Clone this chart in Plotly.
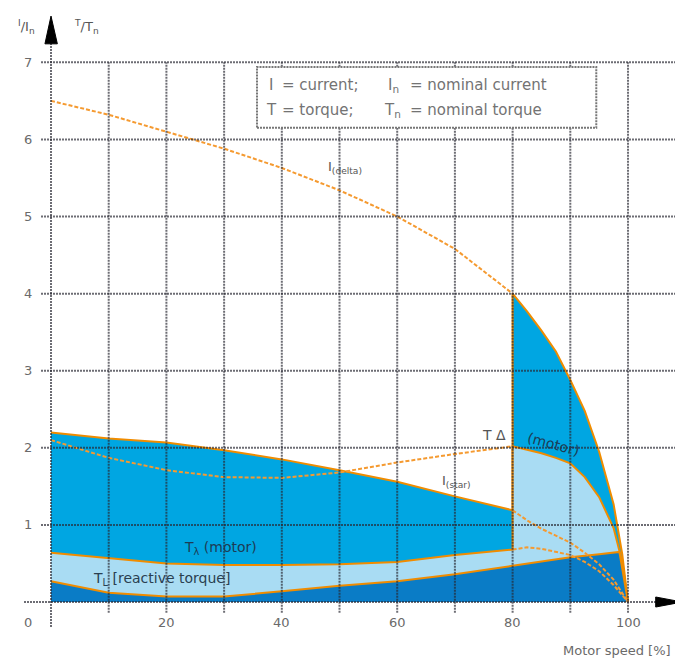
import plotly.graph_objects as go

# motor speed [%]
speed_lo = [0, 10, 20, 30, 40, 50, 60, 70, 80]
speed_hi = [80, 82.5, 85, 87.5, 90, 92.5, 95, 97.5, 99, 100]
speed_load = [0, 10, 20, 30, 40, 50, 60, 70, 80, 90, 95, 98.5, 100]

# currents I/In
i_delta_lo = [6.5, 6.32, 6.1, 5.88, 5.63, 5.34, 5.0, 4.58, 4.0]
i_delta_hi = [4.0, 3.77, 3.52, 3.25, 2.88, 2.48, 1.95, 1.27, 0.62, 0.0]
i_star_lo = [2.2, 2.12, 2.07, 1.97, 1.85, 1.71, 1.56, 1.37, 1.19]
i_star_hi = [1.19, 1.06, 0.95, 0.86, 0.77, 0.64, 0.49, 0.29, 0.12, 0.0]

# torques T/Tn
t_delta_lo = [2.1, 1.87, 1.71, 1.62, 1.61, 1.68, 1.81, 1.92, 2.02]
t_delta_hi = [2.02, 1.98, 1.93, 1.87, 1.8, 1.62, 1.36, 0.96, 0.52, 0.0]
t_star_lo = [0.64, 0.57, 0.5, 0.48, 0.48, 0.49, 0.52, 0.61, 0.68]
t_star_hi = [0.68, 0.71, 0.69, 0.65, 0.61, 0.52, 0.4, 0.22, 0.08, 0.0]
t_load = [0.27, 0.12, 0.07, 0.07, 0.14, 0.21, 0.27, 0.36, 0.47, 0.58, 0.62, 0.65, 0.0]

# ticks / grid
x_ticks = [20, 40, 60, 80, 100]
y_ticks = [1, 2, 3, 4, 5, 6, 7]
x_grid = [10, 20, 30, 40, 50, 60, 70, 80, 90, 100]

FONT = "DejaVu Sans"
ORANGE = "#f08c00"
ORANGE_DOT = "#f59a30"
MID_BLUE = "#00a6e2"
LIGHT_BLUE = "#a9dcf3"
DARK_BLUE = "#0a7cc6"
GRID = "rgba(40,40,50,0.68)"

fig = go.Figure()

# current envelope (star up to 80 %, then delta)
fig.add_trace(go.Scatter(
    x=speed_lo + speed_hi, y=i_star_lo + i_delta_hi, mode="lines",
    fill="tozeroy", fillcolor=MID_BLUE, line=dict(color=ORANGE, width=2),
))
# motor torque envelope
fig.add_trace(go.Scatter(
    x=speed_lo + speed_hi, y=t_star_lo + t_delta_hi, mode="lines",
    fill="tozeroy", fillcolor=LIGHT_BLUE, line=dict(color=ORANGE, width=2),
))
# load torque
fig.add_trace(go.Scatter(
    x=speed_load, y=t_load, mode="lines",
    fill="tozeroy", fillcolor=DARK_BLUE, line=dict(color=ORANGE, width=2),
))
# the parts of the curves that are not used
for xs, ys in [(speed_lo, i_delta_lo), (speed_lo, t_delta_lo),
               (speed_hi, i_star_hi), (speed_hi, t_star_hi)]:
    fig.add_trace(go.Scatter(
        x=xs, y=ys, mode="lines",
        line=dict(color=ORANGE_DOT, width=2, dash="4px,2px"),
    ))

shapes = []
grid_line = dict(color=GRID, width=2, dash="2px,1px")
for gx in x_grid:
    shapes.append(dict(type="line", xref="x", yref="y", x0=gx, x1=gx, y0=-0.14, y1=7,
                       line=grid_line, layer="above"))
for gy in y_ticks:
    shapes.append(dict(type="line", xref="x", yref="y", x0=-1.73, x1=109.5, y0=gy, y1=gy,
                       line=grid_line, layer="above"))
# axes
shapes.append(dict(type="line", xref="x", yref="y", x0=-4.68, x1=105, y0=0, y1=0,
                   line=grid_line, layer="above"))
shapes.append(dict(type="line", xref="x", yref="y", x0=0, x1=0, y0=-0.324, y1=7.25,
                   line=grid_line, layer="above"))
# arrow heads
shapes.append(dict(type="path", xref="x", yref="y", layer="above",
                   path="M -1.05,7.24 L 1.1,7.24 L 0,7.6 Z",
                   fillcolor="black", line=dict(color="black", width=1)))
shapes.append(dict(type="path", xref="x", yref="y", layer="above",
                   path="M 104.8,-0.065 L 104.8,0.065 L 109.4,0 Z",
                   fillcolor="black", line=dict(color="black", width=1)))
# legend box
shapes.append(dict(type="rect", xref="x", yref="y", x0=35.7, x1=94.5, y0=6.15, y1=6.94,
                   fillcolor="white", line=dict(color="#777", width=2, dash="2px,1px"),
                   layer="above"))

ann = []


def text(x, y, s, size=13, color="#6a6a6a", xanchor="center", yanchor="middle", angle=0):
    ann.append(dict(x=x, y=y, xref="x", yref="y", text=s, showarrow=False,
                    xanchor=xanchor, yanchor=yanchor, textangle=angle,
                    font=dict(family=FONT, size=size, color=color)))


for v in x_ticks:
    text(v, -0.272, str(v))
for v in y_ticks:
    text(-3.99, v, str(v))
text(-3.99, -0.272, "0")

# axis titles
text(-4.3, 7.46, "<sup>I</sup>/I<sub>n</sub>", size=13, color="#555")
text(6.1, 7.46, "<sup>T</sup>/T<sub>n</sub>", size=13, color="#555")
ann.append(dict(x=107.8, y=-0.038, xref="x", yref="paper", text="Motor speed [%]",
                showarrow=False, xanchor="right", yanchor="middle",
                font=dict(family=FONT, size=13, color="#6a6a6a")))

# legend text
leg = dict(size=15, color="#737373", xanchor="left")
text(37.4, 6.705, "I", **leg)
text(39.6, 6.705, "= current;", **leg)
text(58.0, 6.705, "I<sub>n</sub>", **leg)
text(61.9, 6.705, "= nominal current", **leg)
text(36.9, 6.38, "T", **leg)
text(39.6, 6.38, "= torque;", **leg)
text(57.3, 6.38, "T<sub>n</sub>", **leg)
text(61.9, 6.38, "= nominal torque", **leg)

# curve labels
text(47.6, 5.64, "I<sub>(delta)</sub>", size=13, color="#555", xanchor="left")
text(67.4, 1.56, "I<sub>(star)</sub>", size=13, color="#555", xanchor="left")
text(74.3, 2.17, "T Δ", size=14, color="#555", xanchor="left")
text(87.0, 2.05, "(motor)", size=14, color="#1d3c55", angle=15)
text(29.3, 0.70, "T<sub>λ</sub> (motor)", size=14, color="#1d3c55")
text(7.0, 0.30, "T<sub>L</sub> [reactive torque]", size=14, color="#2a3f50", xanchor="left")

# the page adds an 8 px body margin, so the figure is 8 px smaller
fig.update_layout(
    width=675, height=652,
    margin=dict(l=16, r=0, t=7, b=33),
    plot_bgcolor="white", paper_bgcolor="white",
    showlegend=False,
    xaxis=dict(range=[-4.68, 109.53], visible=False, fixedrange=True),
    yaxis=dict(range=[-0.324, 7.614], visible=False, fixedrange=True),
    shapes=shapes, annotations=ann,
)

fig.write_html("out.html")
